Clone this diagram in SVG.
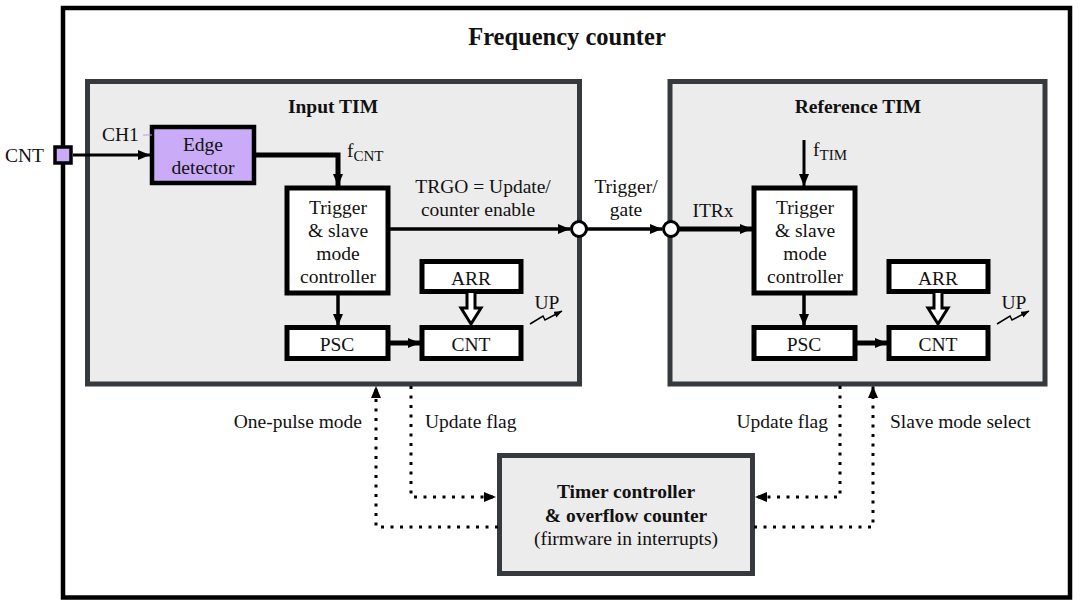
<svg xmlns="http://www.w3.org/2000/svg" width="1080" height="607" viewBox="0 0 1080 607">
<defs>
<style>
text{font-family:"Liberation Serif","Times New Roman",serif;font-size:19.5px;fill:#111}
.b{font-weight:bold}
.m{text-anchor:middle}
.e{text-anchor:end}
.panel{fill:#ececec;stroke:#36393e;stroke-width:5}
.blk{fill:#fff;stroke:#000;stroke-width:5}
.ln{fill:none;stroke:#000}
.dot{fill:none;stroke:#000;stroke-width:3;stroke-dasharray:3 6.5}
.circ{fill:#fff;stroke:#000;stroke-width:3}
</style>
<marker id="ah" viewBox="0 0 12 10" refX="12" refY="5" markerWidth="12" markerHeight="10" markerUnits="userSpaceOnUse" orient="auto"><path d="M0,0 L12,5 L0,10 z" fill="#000"/></marker>
<marker id="ahs" viewBox="0 0 10 8" refX="10" refY="4" markerWidth="8" markerHeight="7" markerUnits="userSpaceOnUse" orient="auto"><path d="M0,0 L10,4 L0,8 z" fill="#000"/></marker>
</defs>
<rect x="63" y="8" width="1007" height="589.5" fill="#fff" stroke="#000" stroke-width="4.5"/>
<text x="567" y="45" class="b m" style="font-size:24.5px">Frequency counter</text>
<g id="input-tim"><rect x="87.5" y="81.5" width="492" height="302.5" class="panel"/><text x="333" y="113" class="b m">Input TIM</text></g>
<g id="reference-tim"><rect x="670" y="81.5" width="375" height="302.5" class="panel"/><text x="858" y="113" class="b m">Reference TIM</text></g>
<g id="timer-controller"><rect x="499.5" y="455.5" width="253" height="118" class="panel"/>
<text x="626" y="498" class="b m">Timer controller</text><text x="626" y="522" class="b m">&amp; overflow counter</text><text x="626" y="545" class="m">(firmware in interrupts)</text></g>
<g id="cnt-pin"><rect x="55" y="147" width="16" height="16" fill="#c9abf7" stroke="#000" stroke-width="3.5"/><text x="5" y="162">CNT</text></g>
<g id="edge-detector"><rect x="152" y="127" width="102" height="56" fill="#c9abf7" stroke="#000" stroke-width="4.5"/>
<text x="203" y="151" class="m">Edge</text><text x="203" y="174" class="m">detector</text>
<text x="102" y="141">CH1</text><line x1="143" y1="135" x2="152" y2="135" stroke="#b79ae6" stroke-width="1"/></g>
<g id="in-trigger"><rect x="287" y="188" width="101" height="105" class="blk"/>
<text x="338" y="214" class="m">Trigger</text><text x="338" y="237" class="m">&amp; slave</text><text x="338" y="260" class="m">mode</text><text x="338" y="283" class="m">controller</text></g>
<g id="in-psc"><rect x="287" y="327.5" width="101" height="31" class="blk"/><text x="337" y="351" class="m">PSC</text></g>
<g id="in-arr"><rect x="422" y="261.5" width="99" height="30" class="blk"/><text x="471" y="285" class="m">ARR</text></g>
<g id="in-cnt"><rect x="422" y="327.5" width="99" height="31" class="blk"/><text x="471" y="351" class="m">CNT</text></g>
<g id="ref-trigger"><rect x="754" y="188" width="101" height="105" class="blk"/>
<text x="805" y="214" class="m">Trigger</text><text x="805" y="237" class="m">&amp; slave</text><text x="805" y="260" class="m">mode</text><text x="805" y="283" class="m">controller</text></g>
<g id="ref-psc"><rect x="754" y="327.5" width="101" height="31" class="blk"/><text x="804" y="351" class="m">PSC</text></g>
<g id="ref-arr"><rect x="889" y="261.5" width="99" height="30" class="blk"/><text x="938" y="285" class="m">ARR</text></g>
<g id="ref-cnt"><rect x="889" y="327.5" width="99" height="31" class="blk"/><text x="938" y="351" class="m">CNT</text></g>
<g id="connectors">
<line x1="73" y1="155" x2="150" y2="155" class="ln" stroke-width="3" marker-end="url(#ah)"/>
<polyline points="256,155 338,155 338,186" class="ln" stroke-width="5" marker-end="url(#ah)"/>
<text x="347" y="157">f<tspan dy="4" style="font-size:15px">CNT</tspan></text>
<line x1="390" y1="229" x2="570" y2="229" class="ln" stroke-width="3.5" marker-end="url(#ah)"/>
<text x="483" y="193" class="m">TRGO = Update/</text><text x="478" y="216" class="m">counter enable</text>
<line x1="587" y1="229" x2="662" y2="229" class="ln" stroke-width="3.5" marker-end="url(#ah)"/>
<text x="626" y="193" class="m">Trigger/</text><text x="626" y="216" class="m">gate</text>
<line x1="679" y1="229" x2="752" y2="229" class="ln" stroke-width="5" marker-end="url(#ah)"/>
<text x="713" y="217" class="m">ITRx</text>
<circle cx="579" cy="229" r="7.5" class="circ"/>
<circle cx="671" cy="229" r="7.5" class="circ"/>
<line x1="804" y1="140" x2="804" y2="186" class="ln" stroke-width="3" marker-end="url(#ah)"/>
<text x="813" y="156">f<tspan dy="4" style="font-size:15px">TIM</tspan></text>
<line x1="338" y1="295" x2="338" y2="326" class="ln" stroke-width="3.5" marker-end="url(#ah)"/>
<line x1="390" y1="343" x2="420" y2="343" class="ln" stroke-width="5" marker-end="url(#ah)"/>
<line x1="804" y1="295" x2="804" y2="326" class="ln" stroke-width="3.5" marker-end="url(#ah)"/>
<line x1="857" y1="343" x2="887" y2="343" class="ln" stroke-width="5" marker-end="url(#ah)"/>
<path d="M467,293 V308 H461 L471,324 L481,308 H475 V293" fill="#fff" stroke="#000" stroke-width="3"/>
<path d="M934,293 V308 H928 L938,324 L948,308 H942 V293" fill="#fff" stroke="#000" stroke-width="3"/>
<path d="M530,324 L543,316 L545,320 L562,311" class="ln" stroke-width="1.5" marker-end="url(#ahs)"/>
<text x="547" y="309" class="m">UP</text>
<path d="M997,324 L1010,316 L1012,320 L1029,311" class="ln" stroke-width="1.5" marker-end="url(#ahs)"/>
<text x="1014" y="309" class="m">UP</text>
<polyline points="498,527 376,527 376,386" class="dot" marker-end="url(#ah)"/>
<polyline points="411,386 411,497 496,497" class="dot" marker-end="url(#ah)"/>
<polyline points="840,386 840,497 755,497" class="dot" marker-end="url(#ah)"/>
<polyline points="754,527 873,527 873,386" class="dot" marker-end="url(#ah)"/>
<text x="362" y="428" class="e">One-pulse mode</text>
<text x="425" y="428">Update flag</text>
<text x="828" y="428" class="e">Update flag</text>
<text x="890" y="428">Slave mode select</text>
</g>
</svg>
